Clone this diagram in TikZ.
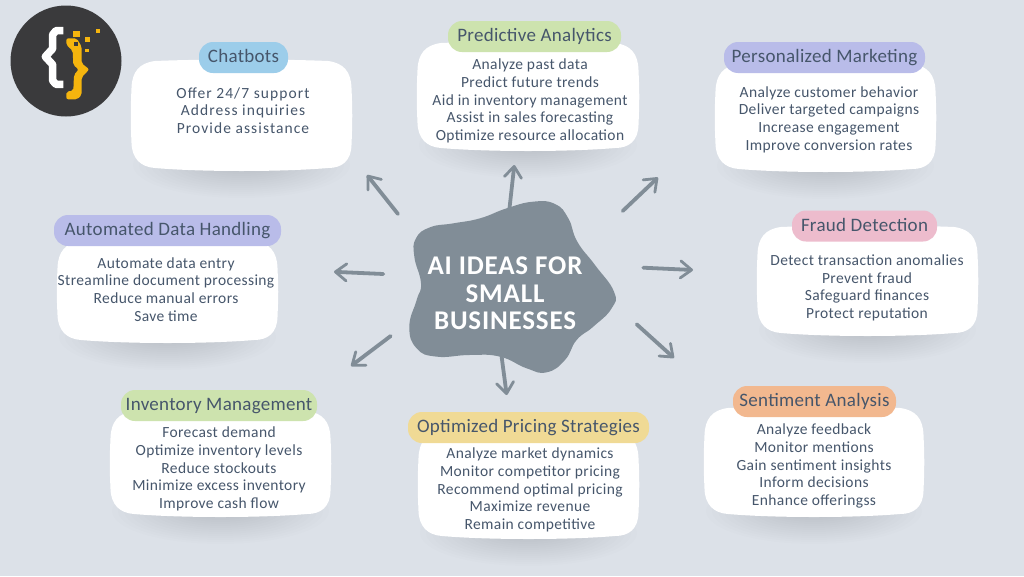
\documentclass[tikz,border=0pt]{standalone}
\usepackage{fontspec}
\setmainfont{Carlito}
\usetikzlibrary{arrows.meta}
\definecolor{bgc}{HTML}{DCE1E8}
\definecolor{ink}{HTML}{46566B}
\definecolor{blobc}{HTML}{818D97}
\definecolor{logoc}{HTML}{3A3A3C}
\definecolor{goldc}{HTML}{F5B50E}
\definecolor{pblue}{HTML}{9CCDEA}
\definecolor{pgreen}{HTML}{CDE3AE}
\definecolor{ppurple}{HTML}{B9BCE9}
\definecolor{ppink}{HTML}{EDBCCD}
\definecolor{porange}{HTML}{F2B88F}
\definecolor{pyellow}{HTML}{F0DA95}
\tikzset{
  x=1pt,y=-1pt,
  pill/.style={rounded corners=14pt,minimum height=31pt,inner sep=0pt,text height=13pt,text depth=3pt,text=ink,font=\fontsize{19}{20}\selectfont\addfontfeatures{LetterSpace=1.5}},
  bodytext/.style={align=center,inner sep=0pt,yshift=-1pt,text=ink,font=\fontsize{15.5}{17.7}\selectfont\addfontfeatures{LetterSpace=2.5}},
  widetext/.style={align=center,inner sep=0pt,yshift=-1pt,text=ink,font=\fontsize{15.5}{17.7}\selectfont\addfontfeatures{LetterSpace=7}},
  spoke/.style={draw=blobc,line width=3.8pt,line cap=round,-{Straight Barb[length=11pt,width=17pt,line width=2.8pt,round]}},
}
\newcommand{\cardbg}[4]{%
  \pgfmathsetmacro{\cxa}{#1}\pgfmathsetmacro{\cya}{#2}\pgfmathsetmacro{\cxb}{#3}\pgfmathsetmacro{\cyb}{#4}%
  \foreach \k in {0,...,13}{%
    \fill[black,opacity=.0095] ({(\cxa+\cxb)/2},{\cyb-6}) ellipse ({(\cxb-\cxa)/2-2-\k*6} and {33-\k*2});
  }%
  \fill[white] ({\cxa+24},{\cya+1})
    .. controls ({\cxa+70},{\cya-1}) and ({\cxb-70},{\cya-1}) .. ({\cxb-24},{\cya+1})
    .. controls ({\cxb-8},{\cya+3}) and ({\cxb-1},{\cya+12}) .. ({\cxb-.5},{\cya+28})
    .. controls ({\cxb+.5},{\cya+50}) and ({\cxb+.5},{\cyb-50}) .. ({\cxb-.5},{\cyb-26})
    .. controls ({\cxb-1},{\cyb-10}) and ({\cxb-10},{\cyb-3}) .. ({\cxb-24},{\cyb-3})
    .. controls ({\cxb-70},{\cyb+1}) and ({\cxa+70},{\cyb+1}) .. ({\cxa+24},{\cyb-3})
    .. controls ({\cxa+10},{\cyb-4}) and ({\cxa+1},{\cyb-12}) .. ({\cxa+.5},{\cyb-28})
    .. controls ({\cxa-.5},{\cyb-50}) and ({\cxa-.5},{\cya+50}) .. ({\cxa+.5},{\cya+28})
    .. controls ({\cxa+1},{\cya+12}) and ({\cxa+8},{\cya+3}) .. ({\cxa+24},{\cya+1}) -- cycle;
}
\begin{document}
\begin{tikzpicture}
\useasboundingbox (0,0) rectangle (1024,576);
\fill[bgc] (0,0) rectangle (1024,576);

% logo
\node[circle,fill=logoc,minimum size=111pt,inner sep=0pt] (logo) at (66,61) {};
\begin{scope}[x=.3333pt,y=-.3333pt]
  \draw[white,line width=7.6pt,line join=round] (190,92) -- (168,92) -- (158,104) -- (158,146) -- (136,170) -- (158,194) -- (158,242) -- (168,253) -- (190,253);
  \fill[goldc,rounded corners=2pt] (199,115) -- (230,115) -- (245,140) -- (245,190) -- (268,208) -- (245,232) -- (245,285) -- (232,298) -- (199,298) -- (199,275) -- (220,272) -- (222,225) -- (236,208) -- (220,195) -- (218,152) -- (199,135) -- cycle;
  \fill[logoc] (222,127) rectangle (234,139);
  \fill[goldc] (220,92) rectangle (241,110);
  \fill[goldc] (255,112) rectangle (270,127);
  \fill[goldc] (254,146) rectangle (266,157);
  \fill[goldc] (287,86) rectangle (299,98);
\end{scope}

% cards
\cardbg{131}{60}{352}{171}
\cardbg{417}{42}{639}{151}
\cardbg{715}{63}{936}{172}
\cardbg{757}{226}{978}{336}
\cardbg{704}{407}{924}{517}
\cardbg{418}{430}{639}{539}
\cardbg{110}{410}{331}{517}
\cardbg{57}{240}{278}{343}

% titles
\node[pill,fill=pblue,minimum width=89pt] (t1) at (243.5,57.5) {Chatbots};
\node[pill,fill=pgreen,minimum width=173pt] (t2) at (534.5,36.5) {Predictive Analytics};
\node[pill,fill=ppurple,minimum width=201pt] (t3) at (824.5,57.5) {Personalized Marketing};
\node[pill,fill=ppink,minimum width=145pt] (t4) at (864.5,226) {Fraud Detection};
\node[pill,fill=porange,minimum width=163pt] (t5) at (814.5,401.5) {Sentiment Analysis};
\node[pill,fill=pyellow,minimum width=241pt] (t6) at (528.5,427.5) {Optimized Pricing Strategies};
\node[pill,fill=pgreen,minimum width=196pt] (t7) at (219,405.5) {Inventory Management};
\node[pill,fill=ppurple,minimum width=227pt] (t8) at (167.5,230.5) {Automated Data Handling};

% body text
\node[widetext] (b1) at (243,109.5) {Offer 24/7 support\\Address inquiries\\Provide assistance};
\node[bodytext] (b2) at (530,100) {Analyze past data\\Predict future trends\\Aid in inventory management\\Assist in sales forecasting\\Optimize resource allocation};
\node[bodytext] (b3) at (829,118.5) {Analyze customer behavior\\Deliver targeted campaigns\\Increase engagement\\Improve conversion rates};
\node[bodytext] (b4) at (867,287) {Detect transaction anomalies\\Prevent fraud\\Safeguard finances\\Protect reputation};
\node[bodytext] (b5) at (814,465) {Analyze feedback\\Monitor mentions\\Gain sentiment insights\\Inform decisions\\Enhance offeringss};
\node[bodytext] (b6) at (530,489) {Analyze market dynamics\\Monitor competitor pricing\\Recommend optimal pricing\\Maximize revenue\\Remain competitive};
\node[bodytext] (b7) at (219,468) {Forecast demand\\Optimize inventory levels\\Reduce stockouts\\Minimize excess inventory\\Improve cash flow};
\node[bodytext] (b8) at (166,288.5) {Automate data entry\\Streamline document processing\\Reduce manual errors\\Save time};

% spoke ends
\coordinate (s1) at (398,214); \coordinate (e1) at (367,175);
\coordinate (s2) at (509.3,210); \coordinate (e2) at (514.3,165);
\coordinate (s3) at (622.7,211); \coordinate (e3) at (658,177.5);
\coordinate (s4) at (643.3,267.7); \coordinate (e4) at (693,270);
\coordinate (s5) at (636.7,324.3); \coordinate (e5) at (674,358);
\coordinate (s6) at (501,352); \coordinate (e6) at (506.7,395);
\coordinate (s7) at (390.7,336); \coordinate (e7) at (351,366);
\coordinate (s8) at (383.3,274); \coordinate (e8) at (334,271.8);
\foreach \i in {1,...,8}{\draw[spoke] (s\i) -- (e\i);}

% central blob
\begin{scope}[shift={(320,160)},x=.3333pt,y=-.3333pt]
  \fill[blobc] plot[smooth cycle,tension=.8] coordinates {(560,145) (640,125) (705,132) (745,175) (772,245) (825,315) (882,395) (875,445) (820,500) (770,540) (735,600) (680,637) (620,625) (540,590) (450,585) (350,590) (290,565) (268,500) (290,420) (303,370) (283,290) (288,235) (330,202) (400,190) (480,175)};
\end{scope}
\node[align=center,text=white,inner sep=0pt,font=\fontsize{27}{27.7}\bfseries\selectfont\addfontfeatures{LetterSpace=3}] (hub) at (505,293.5) {AI IDEAS FOR\\SMALL\\BUSINESSES};
\end{tikzpicture}
\end{document}
